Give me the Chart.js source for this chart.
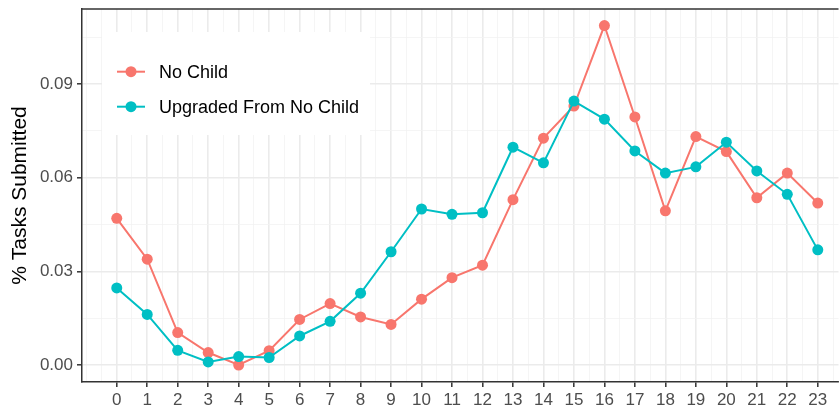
<!DOCTYPE html>
<html>
<head>
<meta charset="utf-8">
<script src="https://cdn.jsdelivr.net/npm/chart.js@4"></script>
<style>
  html, body { margin: 0; padding: 0; background: #fff; overflow: hidden; }
  #wrap { width: 839px; height: 407px; overflow: hidden; }
</style>
</head>
<body>
<div id="wrap"><canvas id="lineChart" width="844" height="407"></canvas></div>
<script>
// hour of day
const hours = [0, 1, 2, 3, 4, 5, 6, 7, 8, 9, 10, 11, 12, 13, 14, 15, 16, 17, 18, 19, 20, 21, 22, 23];

const noChild = [0.0470, 0.0339, 0.0104, 0.0040, 0.0000, 0.0046, 0.0146, 0.0197, 0.0154, 0.0130,
    0.0211, 0.0280, 0.0320, 0.0530, 0.0727, 0.0830, 0.1088, 0.0795, 0.0494, 0.0732,
    0.0684, 0.0536, 0.0615, 0.0519];

const upgraded = [0.0247, 0.0162, 0.0047, 0.0010, 0.0027, 0.0024, 0.0093, 0.0140, 0.0230, 0.0363,
    0.0500, 0.0483, 0.0488, 0.0698, 0.0648, 0.0846, 0.0788, 0.0686, 0.0615, 0.0635,
    0.0714, 0.0622, 0.0547, 0.0369];

const yTicks = [0, 0.03, 0.06, 0.09];
const seriesNames = ['No Child', 'Upgraded From No Child'];
const seriesColors = ['#F8766D', '#00BFC4'];

const FONT = '"Liberation Sans", Arial, Helvetica, sans-serif';

function isMajor(v, majors) {
    return majors.some(m => Math.abs(m - v) < 1e-9);
}

// legend box inside the panel + top border
const panelExtras = {
    id: 'panelExtras',
    afterDraw(chart) {
        const ctx = chart.ctx;
        const area = chart.chartArea;
        ctx.save();
        ctx.strokeStyle = '#333333';
        ctx.lineWidth = 1.5;
        ctx.beginPath();
        ctx.moveTo(area.left, area.top);
        ctx.lineTo(area.right, area.top);
        ctx.stroke();

        ctx.fillStyle = '#ffffff';
        ctx.fillRect(102, 32, 268, 103);

        ctx.font = '18px ' + FONT;
        ctx.textBaseline = 'middle';
        ctx.textAlign = 'left';
        chart.data.datasets.forEach((ds, i) => {
            const y = 71.7 + i * 35;
            ctx.strokeStyle = ds.borderColor;
            ctx.lineWidth = 2;
            ctx.beginPath();
            ctx.moveTo(117, y);
            ctx.lineTo(145, y);
            ctx.stroke();
            ctx.fillStyle = ds.borderColor;
            ctx.beginPath();
            ctx.arc(131, y, 5.5, 0, Math.PI * 2);
            ctx.fill();
            ctx.fillStyle = '#000000';
            ctx.fillText(ds.label, 159, y + 1);
        });
        ctx.restore();
    }
};

document.addEventListener('DOMContentLoaded', function() {
    const ctx = document.getElementById('lineChart').getContext('2d');

    const chart = new Chart(ctx, {
        type: 'line',
        data: {
            datasets: [{
                label: seriesNames[0],
                data: hours.map((h, i) => ({ x: h, y: noChild[i] })),
                borderColor: seriesColors[0],
                backgroundColor: seriesColors[0],
                borderWidth: 2,
                pointRadius: 5.5,
                pointBorderWidth: 0,
                fill: false,
                order: 2
            }, {
                label: seriesNames[1],
                data: hours.map((h, i) => ({ x: h, y: upgraded[i] })),
                borderColor: seriesColors[1],
                backgroundColor: seriesColors[1],
                borderWidth: 2,
                pointRadius: 5.5,
                pointBorderWidth: 0,
                fill: false,
                order: 1
            }]
        },
        options: {
            responsive: false,
            animation: false,
            events: [],
            layout: { padding: { top: 9, left: 0, right: 0, bottom: 0 } },
            plugins: {
                legend: { display: false },
                tooltip: { enabled: false }
            },
            scales: {
                x: {
                    type: 'linear',
                    position: 'bottom',
                    min: -1.14,
                    max: 23.68,
                    afterBuildTicks(scale) {
                        const t = [];
                        for (let v = -1; v <= 23.5; v += 0.5) t.push({ value: v });
                        scale.ticks = t;
                    },
                    afterFit(scale) {
                        scale.height = 25;
                        scale.paddingLeft = 0;
                        scale.paddingRight = 0;
                    },
                    border: { display: true, color: '#333333', width: 1.5 },
                    grid: {
                        color: c => isMajor(c.tick.value, hours) ? '#ebebeb' : '#f3f3f3',
                        lineWidth: c => isMajor(c.tick.value, hours) ? 1.6 : 0.8,
                        tickColor: c => isMajor(c.tick.value, hours) ? '#333333' : 'rgba(0,0,0,0)',
                        tickWidth: 1.5,
                        tickLength: 5,
                        drawTicks: true
                    },
                    ticks: {
                        autoSkip: false,
                        maxRotation: 0,
                        padding: 3,
                        color: '#4d4d4d',
                        font: { family: FONT, size: 17 },
                        callback: v => isMajor(v, hours) ? String(Math.round(v)) : ''
                    }
                },
                y: {
                    min: -0.00545,
                    max: 0.1141,
                    afterBuildTicks(scale) {
                        const t = [];
                        for (let k = 0; k <= 7; k++) t.push({ value: k * 0.015 });
                        scale.ticks = t;
                    },
                    afterFit(scale) {
                        scale.width = 82;
                        scale.paddingTop = 0;
                        scale.paddingBottom = 0;
                    },
                    border: { display: true, color: '#333333', width: 1.5 },
                    grid: {
                        color: c => isMajor(c.tick.value, yTicks) ? '#ebebeb' : '#f3f3f3',
                        lineWidth: c => isMajor(c.tick.value, yTicks) ? 1.6 : 0.8,
                        tickColor: c => isMajor(c.tick.value, yTicks) ? '#333333' : 'rgba(0,0,0,0)',
                        tickWidth: 1.5,
                        tickLength: 5
                    },
                    title: {
                        display: true,
                        text: '% Tasks Submitted',
                        color: '#000000',
                        font: { family: FONT, size: 21 },
                        padding: { top: 8, bottom: 0 }
                    },
                    ticks: {
                        padding: 4,
                        color: '#4d4d4d',
                        font: { family: FONT, size: 17 },
                        callback: v => isMajor(v, yTicks) ? v.toFixed(2) : ''
                    }
                }
            }
        },
        plugins: [panelExtras]
    });
});
</script>
</body>
</html>
